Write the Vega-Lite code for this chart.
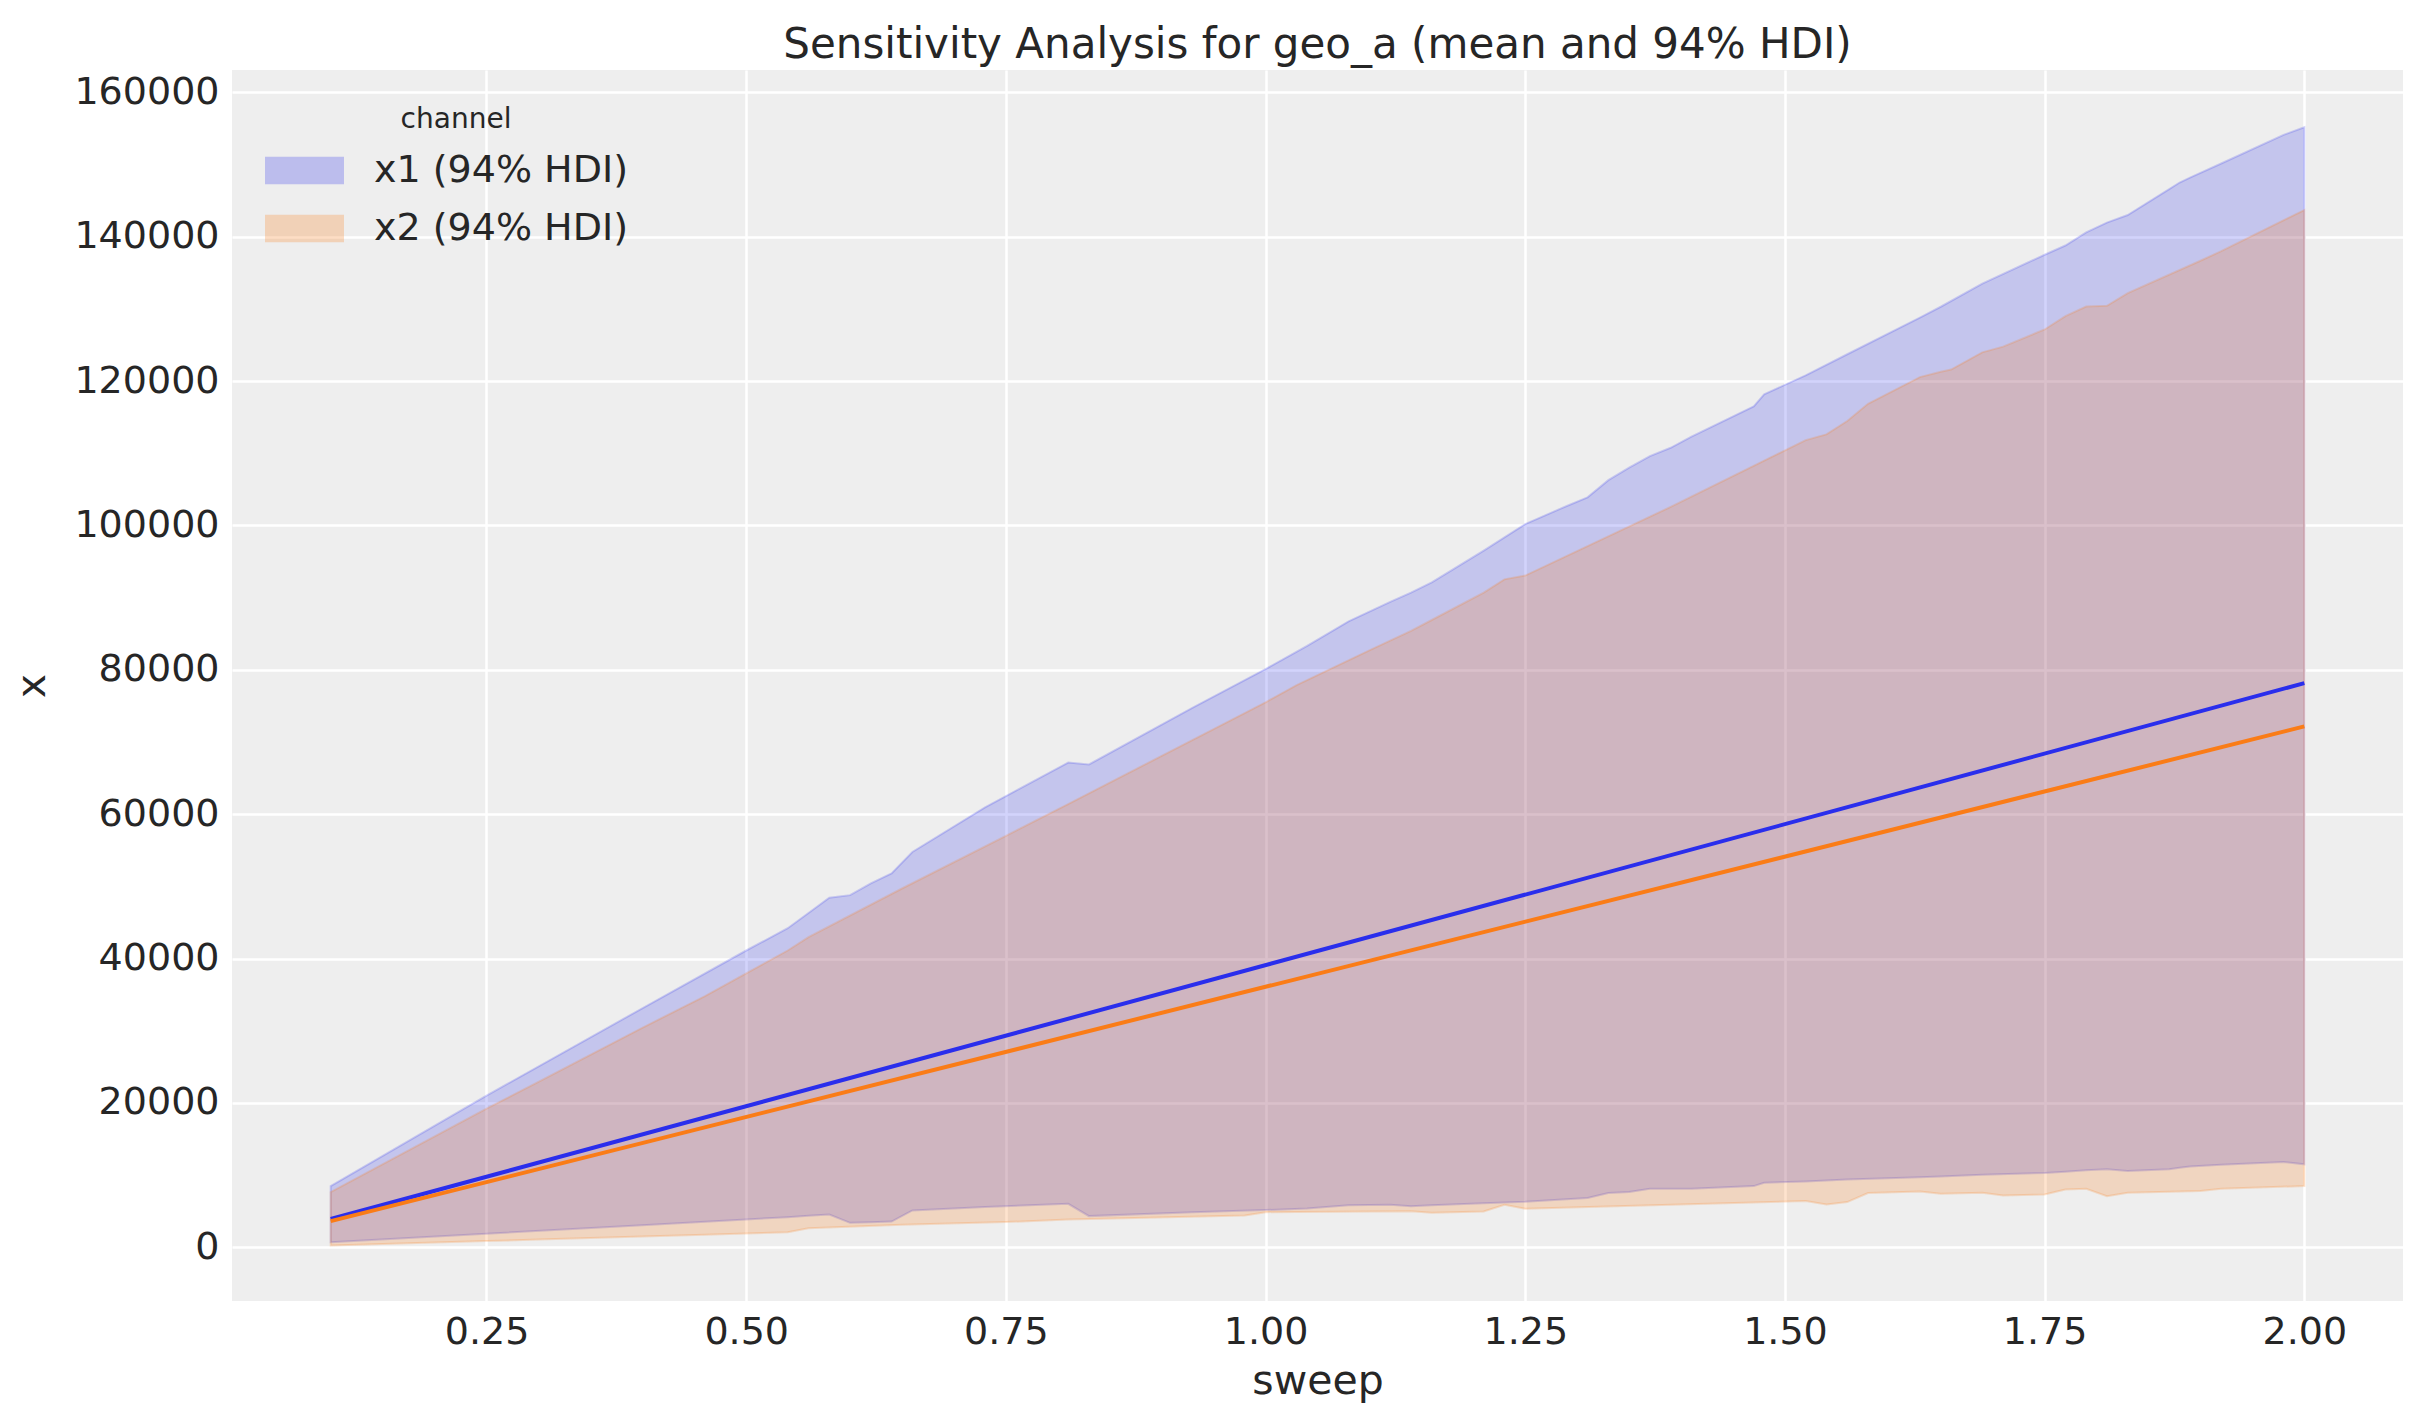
{
  "$schema": "https://vega.github.io/schema/vega-lite/v6.json",
  "autosize": {"type": "none"},
  "padding": {"left": 232, "top": 70, "right": 20, "bottom": 121},
  "width": 2171,
  "height": 1231,
  "background": "white",
  "title": {
    "text": "Sensitivity Analysis for geo_a (mean and 94% HDI)",
    "fontSize": 42,
    "fontWeight": "normal",
    "color": "#262626",
    "anchor": "middle",
    "offset": 3
  },
  "datasets": {
    "hdi": [
      {"sweep": 0.10, "channel": "x1", "lower": 694, "upper": 8470},
      {"sweep": 0.25, "channel": "x1", "lower": 1870, "upper": 21000},
      {"sweep": 0.40, "channel": "x1", "lower": 3050, "upper": 33100},
      {"sweep": 0.50, "channel": "x1", "lower": 3840, "upper": 41110},
      {"sweep": 0.54, "channel": "x1", "lower": 4170, "upper": 44200},
      {"sweep": 0.56, "channel": "x1", "lower": 4350, "upper": 46300},
      {"sweep": 0.58, "channel": "x1", "lower": 4540, "upper": 48410},
      {"sweep": 0.60, "channel": "x1", "lower": 3380, "upper": 48780},
      {"sweep": 0.62, "channel": "x1", "lower": 3470, "upper": 50400},
      {"sweep": 0.64, "channel": "x1", "lower": 3560, "upper": 51800},
      {"sweep": 0.66, "channel": "x1", "lower": 5090, "upper": 54760},
      {"sweep": 0.73, "channel": "x1", "lower": 5560, "upper": 60950},
      {"sweep": 0.81, "channel": "x1", "lower": 6020, "upper": 67140},
      {"sweep": 0.83, "channel": "x1", "lower": 4310, "upper": 66880},
      {"sweep": 0.93, "channel": "x1", "lower": 4860, "upper": 74760},
      {"sweep": 1.00, "channel": "x1", "lower": 5150, "upper": 80100},
      {"sweep": 1.04, "channel": "x1", "lower": 5350, "upper": 83300},
      {"sweep": 1.08, "channel": "x1", "lower": 5800, "upper": 86710},
      {"sweep": 1.12, "channel": "x1", "lower": 5880, "upper": 89400},
      {"sweep": 1.14, "channel": "x1", "lower": 5690, "upper": 90680},
      {"sweep": 1.16, "channel": "x1", "lower": 5800, "upper": 92100},
      {"sweep": 1.21, "channel": "x1", "lower": 6080, "upper": 96500},
      {"sweep": 1.25, "channel": "x1", "lower": 6300, "upper": 100190},
      {"sweep": 1.29, "channel": "x1", "lower": 6650, "upper": 102700},
      {"sweep": 1.31, "channel": "x1", "lower": 6810, "upper": 103890},
      {"sweep": 1.33, "channel": "x1", "lower": 7500, "upper": 106270},
      {"sweep": 1.35, "channel": "x1", "lower": 7640, "upper": 108000},
      {"sweep": 1.37, "channel": "x1", "lower": 8100, "upper": 109600},
      {"sweep": 1.39, "channel": "x1", "lower": 8100, "upper": 110760},
      {"sweep": 1.41, "channel": "x1", "lower": 8100, "upper": 112300},
      {"sweep": 1.47, "channel": "x1", "lower": 8470, "upper": 116500},
      {"sweep": 1.48, "channel": "x1", "lower": 8930, "upper": 118170},
      {"sweep": 1.52, "channel": "x1", "lower": 9120, "upper": 120800},
      {"sweep": 1.56, "channel": "x1", "lower": 9400, "upper": 123720},
      {"sweep": 1.63, "channel": "x1", "lower": 9700, "upper": 128800},
      {"sweep": 1.65, "channel": "x1", "lower": 9810, "upper": 130300},
      {"sweep": 1.69, "channel": "x1", "lower": 10050, "upper": 133500},
      {"sweep": 1.75, "channel": "x1", "lower": 10280, "upper": 137500},
      {"sweep": 1.77, "channel": "x1", "lower": 10450, "upper": 138780},
      {"sweep": 1.79, "channel": "x1", "lower": 10650, "upper": 140600},
      {"sweep": 1.81, "channel": "x1", "lower": 10790, "upper": 141960},
      {"sweep": 1.83, "channel": "x1", "lower": 10560, "upper": 143010},
      {"sweep": 1.87, "channel": "x1", "lower": 10790, "upper": 146600},
      {"sweep": 1.88, "channel": "x1", "lower": 11000, "upper": 147510},
      {"sweep": 1.89, "channel": "x1", "lower": 11200, "upper": 148200},
      {"sweep": 1.92, "channel": "x1", "lower": 11430, "upper": 150150},
      {"sweep": 1.98, "channel": "x1", "lower": 11810, "upper": 154110},
      {"sweep": 2.00, "channel": "x1", "lower": 11480, "upper": 155170},
      {"sweep": 0.10, "channel": "x2", "lower": 230, "upper": 7640},
      {"sweep": 0.25, "channel": "x2", "lower": 850, "upper": 19200},
      {"sweep": 0.30, "channel": "x2", "lower": 1065, "upper": 22900},
      {"sweep": 0.40, "channel": "x2", "lower": 1490, "upper": 30400},
      {"sweep": 0.46, "channel": "x2", "lower": 1740, "upper": 34760},
      {"sweep": 0.50, "channel": "x2", "lower": 1910, "upper": 37940},
      {"sweep": 0.54, "channel": "x2", "lower": 2080, "upper": 41110},
      {"sweep": 0.56, "channel": "x2", "lower": 2640, "upper": 42960},
      {"sweep": 0.65, "channel": "x2", "lower": 3100, "upper": 49700},
      {"sweep": 0.75, "channel": "x2", "lower": 3480, "upper": 56990},
      {"sweep": 0.81, "channel": "x2", "lower": 3840, "upper": 61400},
      {"sweep": 0.98, "channel": "x2", "lower": 4400, "upper": 74000},
      {"sweep": 1.00, "channel": "x2", "lower": 4860, "upper": 75500},
      {"sweep": 1.03, "channel": "x2", "lower": 4880, "upper": 77880},
      {"sweep": 1.10, "channel": "x2", "lower": 4950, "upper": 82700},
      {"sweep": 1.14, "channel": "x2", "lower": 5000, "upper": 85390},
      {"sweep": 1.16, "channel": "x2", "lower": 4770, "upper": 86900},
      {"sweep": 1.21, "channel": "x2", "lower": 4950, "upper": 90680},
      {"sweep": 1.23, "channel": "x2", "lower": 5880, "upper": 92530},
      {"sweep": 1.25, "channel": "x2", "lower": 5320, "upper": 93050},
      {"sweep": 1.39, "channel": "x2", "lower": 5900, "upper": 102570},
      {"sweep": 1.52, "channel": "x2", "lower": 6390, "upper": 111820},
      {"sweep": 1.54, "channel": "x2", "lower": 5930, "upper": 112620},
      {"sweep": 1.56, "channel": "x2", "lower": 6250, "upper": 114470},
      {"sweep": 1.58, "channel": "x2", "lower": 7500, "upper": 116850},
      {"sweep": 1.63, "channel": "x2", "lower": 7730, "upper": 120550},
      {"sweep": 1.65, "channel": "x2", "lower": 7410, "upper": 121300},
      {"sweep": 1.66, "channel": "x2", "lower": 7450, "upper": 121600},
      {"sweep": 1.69, "channel": "x2", "lower": 7550, "upper": 123980},
      {"sweep": 1.71, "channel": "x2", "lower": 7180, "upper": 124770},
      {"sweep": 1.75, "channel": "x2", "lower": 7310, "upper": 127150},
      {"sweep": 1.77, "channel": "x2", "lower": 8010, "upper": 129000},
      {"sweep": 1.79, "channel": "x2", "lower": 8100, "upper": 130330},
      {"sweep": 1.81, "channel": "x2", "lower": 7080, "upper": 130430},
      {"sweep": 1.83, "channel": "x2", "lower": 7550, "upper": 132180},
      {"sweep": 1.90, "channel": "x2", "lower": 7780, "upper": 136670},
      {"sweep": 1.92, "channel": "x2", "lower": 8100, "upper": 138000},
      {"sweep": 2.00, "channel": "x2", "lower": 8470, "upper": 143700}
    ],
    "mean": [
      {"sweep": 0.1, "channel": "x1", "mean": 3910},
      {"sweep": 2.0, "channel": "x1", "mean": 78160},
      {"sweep": 0.1, "channel": "x2", "mean": 3610},
      {"sweep": 2.0, "channel": "x2", "mean": 72160}
    ]
  },
  "layer": [
    {
      "data": {"name": "hdi"},
      "mark": {"type": "area", "fillOpacity": 0.21, "strokeOpacity": 0.2, "strokeWidth": 2},
      "encoding": {
        "x": {"field": "sweep", "type": "quantitative"},
        "y": {"field": "lower", "type": "quantitative"},
        "y2": {"field": "upper"},
        "color": {
          "field": "channel",
          "type": "nominal",
          "scale": {"domain": ["x1", "x2"], "range": ["#2a2eec", "#fa7c17"]},
          "legend": {
            "title": "channel",
            "labelExpr": "datum.label + ' (94% HDI)'"
          }
        },
        "stroke": {
          "field": "channel",
          "type": "nominal",
          "scale": {"domain": ["x1", "x2"], "range": ["#2a2eec", "#fa7c17"]},
          "legend": null
        }
      }
    },
    {
      "data": {"name": "mean"},
      "mark": {"type": "line", "strokeWidth": 4},
      "encoding": {
        "x": {
          "field": "sweep",
          "type": "quantitative",
          "title": "sweep",
          "scale": {"domain": [0.005, 2.095], "nice": false, "zero": false},
          "axis": {"values": [0.25, 0.5, 0.75, 1.0, 1.25, 1.5, 1.75, 2.0], "format": ".2f"}
        },
        "y": {
          "field": "mean",
          "type": "quantitative",
          "title": "x",
          "scale": {"domain": [-7450, 163100], "nice": false, "zero": false},
          "axis": {"values": [0, 20000, 40000, 60000, 80000, 100000, 120000, 140000, 160000], "format": "d"}
        },
        "stroke": {"field": "channel", "type": "nominal", "legend": null}
      }
    }
  ],
  "config": {
    "font": "DejaVu Sans",
    "view": {"fill": "#eeeeee", "stroke": null},
    "axis": {
      "domain": false,
      "ticks": false,
      "grid": true,
      "gridColor": "white",
      "gridWidth": 2.5,
      "gridOpacity": 1,
      "labelFontSize": 38,
      "labelColor": "#262626",
      "labelPadding": 13,
      "titleFontSize": 41,
      "titleFontWeight": "normal",
      "titleColor": "#262626"
    },
    "axisX": {"titlePadding": 10, "labelPadding": 12},
    "axisY": {"titlePadding": 20},
    "legend": {
      "orient": "none",
      "legendX": 52,
      "legendY": 36,
      "titleFontSize": 28,
      "titleFontWeight": "normal",
      "titleColor": "#262626",
      "titleAnchor": "middle",
      "titleAlign": "center",
      "titlePadding": 16,
      "labelFontSize": 38,
      "labelColor": "#262626",
      "labelLimit": 0,
      "labelOffset": 49,
      "symbolType": "M-2,-0.66H2V0.66H-2Z",
      "symbolSize": 1482,
      "symbolOpacity": 0.25,
      "symbolStrokeWidth": 2,
      "rowPadding": 18
    }
  }
}
